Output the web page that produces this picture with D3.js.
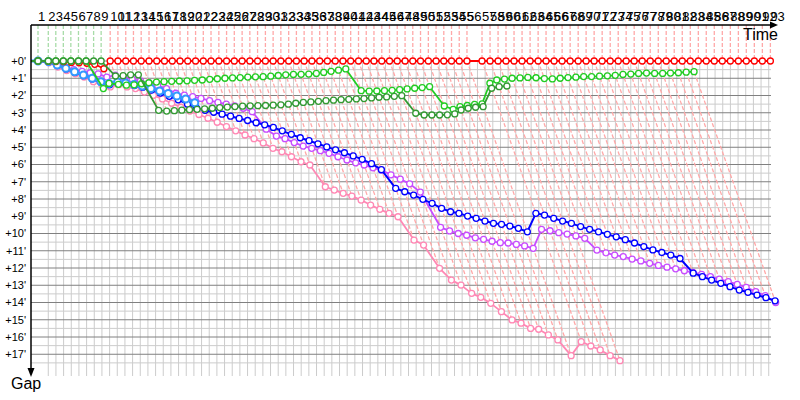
<!DOCTYPE html>
<html>
<head>
<meta charset="utf-8">
<script src="https://cdn.jsdelivr.net/npm/d3@7"></script>
<style>
body{margin:0;background:#fff}
text{font-family:"Liberation Sans",Arial,sans-serif}
</style>
</head>
<body>
<svg id="chart" width="800" height="400"></svg>
<script>
// leader lap times, seconds (lap 1..93)
const lapTimes = [69,101,74,74,74,75,75,74,74,89,
  76,77,76,76,77,76,76,77,76,76, 77,76,76,77,76,76,77,76,76,77,
  76,76,77,76,76,77,76,76,77,76, 76,77,76,76,77,76,76,77,76,76,
  77,76,76,76,76,76,
  148,
  79,79,78,79,79,79,79,78,79,79, 79,79,78,79,79,79,79,78,79,79,
  79,79,78,79,79,79,79,78,79,79, 79,79,78,79,79,79];

// gap to the leader in minutes, per lap (lap 1 first)
const gapRed = [0,0.02,0.03,0.04,0.08,0.1,0.13,0.19,0.45,0,
  0,0,0,0,0,0,0,0,0,0, 0,0,0,0,0,0,0,0,0,0, 0,0,0,0,0,0,0,0,0,0,
  0,0,0,0,0,0,0,0,0,0, 0,0,0,0,0,0,0,0,0,0, 0,0,0,0,0,0,0,0,0,0,
  0,0,0,0,0,0,0,0,0,0, 0,0,0,0,0,0,0,0,0,0, 0,0,0];
const gapDarkGreen = [0,0,0,0,0,0,0,0,0,0.87,
  0.85,0.8,0.8,2.86,2.9,2.88,2.85,2.82,2.8,2.77,
  2.74,2.7,2.67,2.64,2.62,2.6,2.59,2.58,2.56,2.54,
  2.5,2.45,2.4,2.37,2.34,2.3,2.27,2.24,2.22,2.2,
  2.18,2.14,2.1,2.08,2.05,2.01,3.03,3.13,3.13,3.13,
  3.12,3.07,2.84,2.74,2.68,2.65,1.58,1.49,1.45];
const gapGreen = [0,0,0,0,0,0,0,1.6,1.3,1.35,
  1.4,1.38,1.32,1.26,1.22,1.2,1.18,1.16,1.15,1.12,
  1.1,1.06,1.03,1.0,0.98,0.96,0.93,0.92,0.91,0.88,
  0.84,0.8,0.78,0.77,0.76,0.72,0.66,0.6,0.53,0.46,
  1.72,1.75,1.74,1.72,1.7,1.66,1.62,1.58,1.54,1.49,
  2.61,2.8,2.65,2.58,2.52,2.48,1.29,1.1,1.05,1.0,
  0.98,0.95,0.97,1.02,1.04,1.0,0.96,0.94,0.9,0.9,
  0.88,0.86,0.83,0.78,0.76,0.72,0.7,0.72,0.72,0.7,
  0.68,0.65,0.62];
const gapLightBlue = [0,0.04,0.23,0.42,0.62,0.81,1.0,1.2,1.3,1.22,
  1.27,1.36,1.45,1.6,1.74,1.88,2.03,2.2,2.42];
const gapBlue = [0,0.05,0.26,0.46,0.66,0.85,1.04,1.24,1.38,1.3,
  1.33,1.42,1.52,1.68,1.86,2.05,2.25,2.5,2.75,2.86,
  2.97,3.08,3.2,3.33,3.45,3.58,3.7,3.85,4.05,4.25,
  4.45,4.62,4.8,4.98,5.15,5.32,5.5,5.7,5.95,6.3,
  7.38,7.58,7.77,8.02,8.25,8.54,8.74,8.83,8.99,9.12,
  9.28,9.41,9.47,9.57,9.7,9.9,8.83,8.93,9.12,9.28,
  9.41,9.6,9.76,9.9,10.05,10.19,10.36,10.55,10.76,10.95,
  11.1,11.25,11.45,12.3,12.5,12.7,12.89,13.08,13.28,13.41,
  13.57,13.72,13.9];
const gapViolet = [0,0.03,0.2,0.37,0.5,0.6,0.68,0.75,0.93,0.82,
  0.92,1.05,1.15,1.26,1.42,1.6,1.87,1.98,2.07,2.17,
  2.3,2.4,2.5,2.6,2.74,2.94,3.95,4.35,4.5,4.73,
  4.93,5.06,5.2,5.35,5.55,5.74,5.9,6.03,6.19,6.32,
  6.6,6.85,7.12,7.6,9.64,9.85,10.0,10.1,10.25,10.34,
  10.45,10.53,10.55,10.63,10.72,10.86,9.76,9.84,9.95,10.03,
  10.14,10.28,10.96,11.12,11.25,11.34,11.48,11.59,11.73,11.85,
  11.95,12.05,12.16,12.25,12.37,12.5,12.65,12.79,12.95,13.12,
  13.37,13.6,14.0];
const gapPink = [0,0.1,0.35,0.55,0.74,0.93,1.2,1.41,1.5,1.37,
  1.5,1.6,1.8,1.99,2.2,2.45,2.68,2.9,3.1,3.32,
  3.55,3.8,4.05,4.29,4.5,4.75,5.06,5.26,5.55,5.84,
  6.03,7.29,7.48,7.67,7.83,8.06,8.35,8.6,8.83,9.03,
  10.38,10.67,12.02,12.7,12.99,13.47,13.7,14.05,14.53,15.01,
  15.2,15.5,15.55,15.88,16.17,17.08,16.27,16.52,16.75,17.08,
  17.37];

const gapTicks = d3.range(0, 18);

// drawing order back to front
const cars = [
  {gaps: gapPink, color: '#ff88b4', lane: '#ffa8a8', w: 1.8, r: 3, sw: 1.3},
  {gaps: gapViolet, color: '#c84cff', lane: '#ffa8a8', w: 1.8, r: 3, sw: 1.3},
  {gaps: gapBlue, color: '#0000ff', lane: '#ffa8a8', w: 2, r: 3, sw: 1.3},
  {gaps: gapLightBlue, color: '#3399ff', lane: '#ffa8a8', w: 3, r: 3.5, sw: 2},
  {gaps: gapRed, color: '#ff0000', lane: '#ffa8a8', w: 1.8, r: 3, sw: 1.3},
  {gaps: gapGreen, color: '#22cc22', lane: '#a8dca8', w: 1.8, r: 3, sw: 1.3},
  {gaps: gapDarkGreen, color: '#339933', lane: '#a8dca8', w: 1.8, r: 3, sw: 1.3}
];
// who is checked first when several share the lead
const leadOrder = [cars[6], cars[4], cars[5], cars[3], cars[2], cars[1], cars[0]];

const leaderT = [0, ...d3.cumsum(lapTimes)];

const x = d3.scaleLinear().domain([0, 7280]).range([31, 771]);
const y = d3.scaleLinear().domain([0, 18.26]).range([61, 376]);

const svg = d3.select('#chart');

// grid
const grid = svg.append('g');
grid.selectAll('.vg')
  .data(d3.range(170, 7280, 75.4))
  .enter().append('line')
  .attr('x1', d => x(d)).attr('x2', d => x(d))
  .attr('y1', y(0)).attr('y2', y(18.26))
  .attr('stroke', '#cccccc').attr('stroke-width', 1);
grid.selectAll('.hg')
  .data(d3.range(0, 18, 0.5))
  .enter().append('line')
  .attr('x1', x(0)).attr('x2', x(7280))
  .attr('y1', d => y(d)).attr('y2', d => y(d))
  .attr('stroke', d => d % 1 === 0 ? '#808080' : '#cccccc')
  .attr('stroke-width', 1);

// lap lines: vertical at the leader's lap time, then slanting down to the last car on that lap
const laps = d3.range(1, lapTimes.length + 1).map(n => {
  const gs = cars.map(c => c.gaps[n - 1]).filter(v => v !== undefined);
  const lead = leadOrder.reduce((a, c) => (c.gaps[n - 1] !== undefined && (a === null || c.gaps[n - 1] < a.gaps[n - 1])) ? c : a, null);
  return {n, t: leaderT[n], gmax: d3.max(gs), color: lead.lane};
});
svg.append('g').selectAll('path')
  .data(laps)
  .enter().append('path')
  .attr('d', d => `M${x(d.t)},25L${x(d.t)},${y(0)}L${x(d.t + d.gmax * 60)},${y(d.gmax)}`)
  .attr('fill', 'none')
  .attr('stroke', d => d.color)
  .attr('stroke-width', 1.3)
  .attr('stroke-dasharray', '4,2');

// lap numbers
svg.append('g').selectAll('text')
  .data(laps)
  .enter().append('text')
  .attr('x', d => x(d.t))
  .attr('y', 21)
  .attr('font-size', 13)
  .attr('fill', '#000')
  .text(d => d.n);

// cars
const line = d3.line().x(d => x(d.t)).y(d => y(d.g));
cars.forEach(c => {
  const pts = [{t: 0, g: 0}].concat(c.gaps.map((g, i) => ({t: leaderT[i + 1] + g * 60, g})));
  const g = svg.append('g');
  g.append('path')
    .datum(pts)
    .attr('d', line)
    .attr('fill', 'none')
    .attr('stroke', c.color)
    .attr('stroke-width', c.w)
    .attr('stroke-linejoin', 'round');
  g.selectAll('circle')
    .data(pts.slice(1))
    .enter().append('circle')
    .attr('cx', d => x(d.t))
    .attr('cy', d => y(d.g))
    .attr('r', c.r)
    .attr('fill', '#fff')
    .attr('stroke', c.color)
    .attr('stroke-width', c.sw);
});

// axes
svg.append('line').attr('x1', 31).attr('x2', 772).attr('y1', 25).attr('y2', 25)
  .attr('stroke', '#000').attr('stroke-width', 1.5);
svg.append('path').attr('d', 'M770,21.5L778,25L770,28.5Z').attr('fill', '#000');
svg.append('line').attr('x1', 31).attr('x2', 31).attr('y1', 25).attr('y2', 370)
  .attr('stroke', '#000').attr('stroke-width', 1.5);
svg.append('path').attr('d', 'M27.5,368L31,377L34.5,368Z').attr('fill', '#000');

svg.append('g').selectAll('text')
  .data(gapTicks)
  .enter().append('text')
  .attr('x', 26)
  .attr('y', d => y(d))
  .attr('dy', '0.35em')
  .attr('text-anchor', 'end')
  .attr('font-size', 11)
  .text(d => `+${d}'`);

svg.append('text').attr('x', 743).attr('y', 40).attr('font-size', 16).text('Time');
svg.append('text').attr('x', 11).attr('y', 389).attr('font-size', 16).text('Gap');
</script>
</body>
</html>
